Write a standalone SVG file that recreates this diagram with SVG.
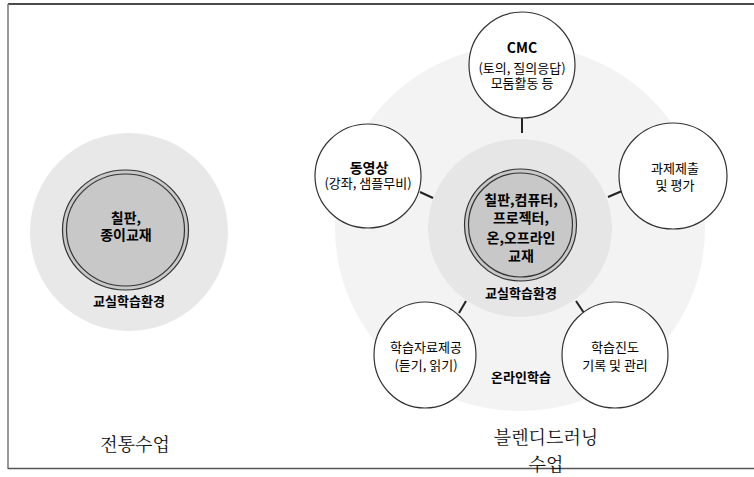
<svg xmlns="http://www.w3.org/2000/svg" width="754" height="477" viewBox="0 0 754 477">
<style>
.k{font-family:"Noto Sans CJK KR","Noto Sans",sans-serif;fill:#000;text-anchor:middle}
.b{font-weight:bold}
.s{font-family:"Noto Serif CJK KR","Liberation Serif","Noto Sans CJK KR",serif;fill:#111;text-anchor:middle;font-size:18px}
.sat{fill:#fff;stroke:#333;stroke-width:1.2}
.dbl{fill:none;stroke:#333;stroke-width:1.2}
.con line{stroke:#222;stroke-width:2}
</style>
<rect width="754" height="477" fill="#fff"/>
<line x1="8" y1="4" x2="754" y2="4" stroke="#111" stroke-width="1.5"/>
<line x1="8" y1="4" x2="8" y2="469" stroke="#777" stroke-width="1.5"/>
<line x1="8" y1="468.5" x2="754" y2="468.5" stroke="#555" stroke-width="1.5"/>

<g id="traditional">
  <ellipse cx="129" cy="232" rx="99" ry="99" fill="#e8e8e8"/>
  <ellipse cx="125.5" cy="230" rx="63" ry="60" fill="#c8c8c8" stroke="#333" stroke-width="1.2"/>
  <ellipse cx="125.5" cy="230" rx="59" ry="56" class="dbl"/>
  <text class="k b" font-size="14" x="126" y="223">칠판,</text>
  <text class="k b" font-size="14" x="126" y="240">종이교재</text>
  <text class="k b" font-size="13" x="129" y="306">교실학습환경</text>
</g>

<g id="blended-bg">
  <ellipse cx="520" cy="228" rx="185" ry="183" fill="#f3f3f3"/>
  <ellipse cx="520" cy="228" rx="92" ry="89" fill="#e6e6e6"/>
</g>

<g class="con" id="connectors">
  <line x1="522" y1="118" x2="522" y2="133"/>
  <line x1="420" y1="192" x2="433" y2="198"/>
  <line x1="608" y1="197" x2="622" y2="191"/>
  <line x1="466" y1="301" x2="459" y2="313"/>
  <line x1="576" y1="301" x2="584" y2="313"/>
</g>

<g id="center">
  <ellipse cx="520.5" cy="225" rx="56" ry="56" fill="#c8c8c8" stroke="#333" stroke-width="1.2"/>
  <ellipse cx="520.5" cy="225" rx="52" ry="52" class="dbl"/>
  <text class="k b" font-size="14" x="521" y="205">칠판,컴퓨터,</text>
  <text class="k b" font-size="14" x="521" y="223">프로젝터,</text>
  <text class="k b" font-size="14" x="521" y="243">온,오프라인</text>
  <text class="k b" font-size="14" x="521" y="261">교재</text>
  <text class="k b" font-size="13" x="521" y="298">교실학습환경</text>
</g>

<g id="cmc">
  <ellipse cx="522" cy="65" rx="53" ry="53" class="sat"/>
  <text class="k b" font-size="14" x="522" y="53">CMC</text>
  <text class="k" font-size="13" x="522" y="73">(토의, 질의응답)</text>
  <text class="k" font-size="13" x="522" y="88">모둠활동 등</text>
</g>

<g id="video">
  <ellipse cx="368" cy="176" rx="53" ry="52" class="sat"/>
  <text class="k b" font-size="14" x="369" y="173">동영상</text>
  <text class="k" font-size="13" x="368" y="188">(강좌, 샘플무비)</text>
</g>

<g id="assignment">
  <ellipse cx="673" cy="176" rx="54" ry="53" class="sat"/>
  <text class="k" font-size="13" x="675" y="173">과제제출</text>
  <text class="k" font-size="13" x="675" y="190">및 평가</text>
</g>

<g id="materials">
  <ellipse cx="425" cy="355" rx="51" ry="53" class="sat"/>
  <text class="k" font-size="13" x="426" y="352">학습자료제공</text>
  <text class="k" font-size="13" x="426" y="370">(듣기, 읽기)</text>
</g>

<g id="progress">
  <ellipse cx="615" cy="355" rx="53" ry="53" class="sat"/>
  <text class="k" font-size="13" x="615" y="352">학습진도</text>
  <text class="k" font-size="13" x="615" y="370">기록 및 관리</text>
</g>

<text class="k b" font-size="13" x="521" y="382">온라인학습</text>
<text class="s" x="135" y="451">전통수업</text>
<text class="s" x="546" y="444">블렌디드러닝</text>
<text class="s" x="546" y="471">수업</text>
</svg>
